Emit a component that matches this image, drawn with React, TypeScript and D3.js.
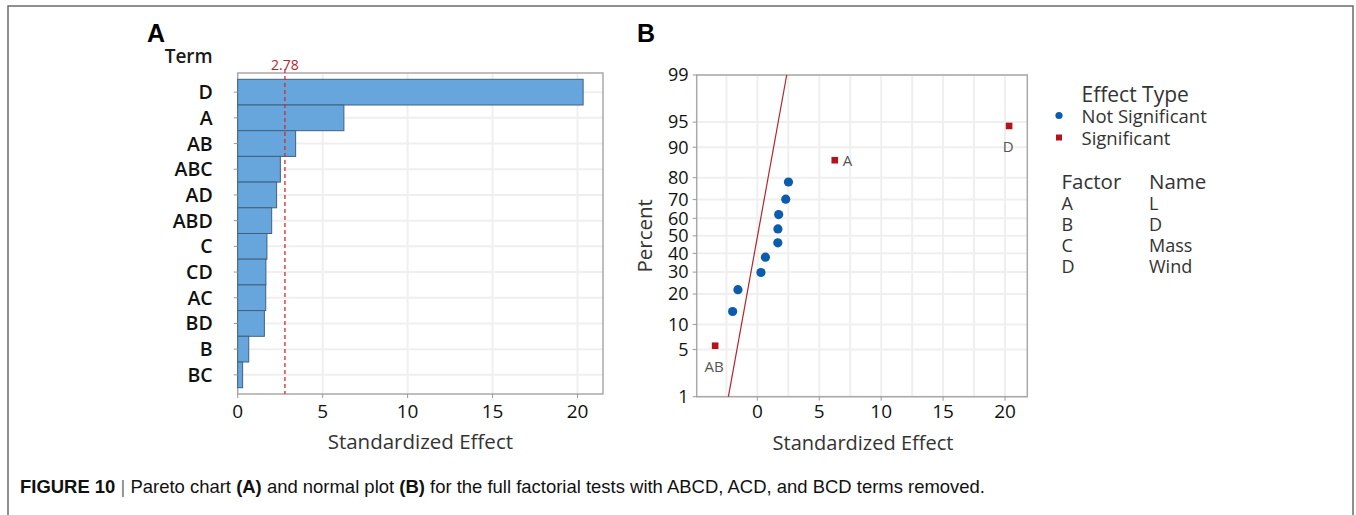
import React from "react";
import * as d3 from "d3";

// ---------- Data ----------
const paretoTerms = ["D", "A", "AB", "ABC", "AD", "ABD", "C", "CD", "AC", "BD", "B", "BC"];
const paretoEffects = [20.33, 6.25, 3.41, 2.51, 2.29, 2.0, 1.72, 1.66, 1.65, 1.57, 0.65, 0.29];
const criticalEffect = 2.78;
const paretoTicks = [0, 5, 10, 15, 20];

const normalTerms = ["AB", "ABD", "BD", "BC", "B", "AC", "CD", "C", "AD", "ABC", "A", "D"];
const normalEffects = [-3.41, -2.0, -1.57, 0.29, 0.65, 1.65, 1.66, 1.72, 2.29, 2.51, 6.25, 20.33];
const normalPercents = [5.6, 13.7, 21.8, 29.8, 37.9, 46.0, 54.0, 62.1, 70.2, 78.2, 86.3, 94.4];
const normalSignificant = [true, false, false, false, false, false, false, false, false, false, true, true];
const labeledTerms = ["AB", "A", "D"];
const fitPercents = [1, 99];
const fitEffects = [-2.34, 2.37];
const percentTicks = [1, 5, 10, 20, 30, 40, 50, 60, 70, 80, 90, 95, 99];
const normalXTicks = [0, 5, 10, 15, 20];
const normalXGrid = [-2.5, 0, 2.5, 5, 7.5, 10, 12.5, 15, 17.5, 20];

const legendTypes = ["Not Significant", "Significant"];
const factorCodes = ["A", "B", "C", "D"];
const factorNames = ["L", "D", "Mass", "Wind"];

// ---------- helpers ----------
function invNorm(p: number): number {
  const a = [-39.69683028665376, 220.9460984245205, -275.9285104469687, 138.357751867269, -30.66479806614716, 2.506628277459239];
  const b = [-54.47609879822406, 161.5858368580409, -155.6989798598866, 66.80131188771972, -13.28068155288572];
  const c = [-0.007784894002430293, -0.3223964580411365, -2.400758277161838, -2.549732539343734, 4.374664141464968, 2.938163982698783];
  const d = [0.007784695709041462, 0.3224671290700398, 2.445134137142996, 3.754408661907416];
  const pl = 0.02425;
  let q: number, r: number;
  if (p < pl) {
    q = Math.sqrt(-2 * Math.log(p));
    return (((((c[0] * q + c[1]) * q + c[2]) * q + c[3]) * q + c[4]) * q + c[5]) / ((((d[0] * q + d[1]) * q + d[2]) * q + d[3]) * q + 1);
  }
  if (p > 1 - pl) {
    q = Math.sqrt(-2 * Math.log(1 - p));
    return -(((((c[0] * q + c[1]) * q + c[2]) * q + c[3]) * q + c[4]) * q + c[5]) / ((((d[0] * q + d[1]) * q + d[2]) * q + d[3]) * q + 1);
  }
  q = p - 0.5;
  r = q * q;
  return ((((((a[0] * r + a[1]) * r + a[2]) * r + a[3]) * r + a[4]) * r + a[5]) * q) / (((((b[0] * r + b[1]) * r + b[2]) * r + b[3]) * r + b[4]) * r + 1);
}

const FONT = "'Open Sans', 'Noto Sans', sans-serif";
const CAP = "'Liberation Sans', Arial, sans-serif";
const GRID = "#efefef";
const FRAME = "#a9a9a9";

export default function App() {
  // Panel A scales
  const aL = 237.7, aR = 603, aT = 73, aB = 394;
  const xA = d3.scaleLinear().domain([0, 21.5]).range([aL, aR]);
  const yA = d3.scaleBand().domain(paretoTerms).range([79.3, 387.7]).padding(0);

  // Panel B scales
  const bL = 696.7, bR = 1027.3, bT = 75, bB = 396.7;
  const xB = d3.scaleLinear().domain([-4.9, 21.8]).range([bL, bR]);
  const zB = d3.scaleLinear().domain([invNorm(0.01), invNorm(0.99)]).range([bB, bT]);
  const yB = (p: number) => zB(invNorm(p / 100));
  const fitLine = d3.line<number>().x((_, i) => xB(fitEffects[i])).y((p) => yB(p));

  return (
    <svg width={1356} height={515} style={{ position: "absolute", left: 0, top: 0, background: "#fff" }}>
      {/* figure frame */}
      <path d="M8,530 L8,6 L1353,6 L1353,530" fill="none" stroke="#6b6b6b" strokeWidth={1.5} />

      {/* ---------- Panel A ---------- */}
      <text x={147} y={41.5} fontFamily={CAP} fontWeight="bold" fontSize={25} fill="#000">A</text>
      <text x={212.7} y={63} textAnchor="end" fontFamily={FONT} fontWeight={600} fontSize={19} fill="#1a1a1a">Term</text>
      <g>
        {paretoTicks.filter((t) => t > 0).map((t) => (
          <line key={"ga" + t} x1={xA(t)} x2={xA(t)} y1={aT} y2={aB} stroke={GRID} strokeWidth={2} />
        ))}
        {paretoTerms.map((t) => (
          <line key={"gh" + t} x1={aL} x2={aR} y1={yA(t)! + yA.bandwidth() / 2} y2={yA(t)! + yA.bandwidth() / 2} stroke={GRID} strokeWidth={2} />
        ))}
        <rect x={aL} y={aT} width={aR - aL} height={aB - aT} fill="none" stroke={FRAME} strokeWidth={1.5} />
        {paretoTerms.map((t, i) => (
          <rect key={"bar" + t} x={xA(0)} y={yA(t)!} width={xA(paretoEffects[i]) - xA(0)} height={yA.bandwidth()}
            fill="#67a6dc" stroke="#42607e" strokeWidth={1} />
        ))}
        {paretoTerms.map((t) => (
          <g key={"yt" + t}>
            <line x1={aL - 4} x2={aL} y1={yA(t)! + yA.bandwidth() / 2} y2={yA(t)! + yA.bandwidth() / 2} stroke="#999" />
            <text x={212.7} y={yA(t)! + yA.bandwidth() / 2} dy="0.36em" textAnchor="end" fontFamily={FONT} fontWeight={600} fontSize={19.5} fill="#111">{t}</text>
          </g>
        ))}
        {paretoTicks.map((t) => (
          <g key={"xt" + t}>
            <line x1={xA(t)} x2={xA(t)} y1={aB} y2={aB + 4} stroke="#999" />
            <text x={xA(t)} y={418} textAnchor="middle" fontFamily={FONT} fontSize={19} fill="#111">{t}</text>
          </g>
        ))}
        <line x1={xA(criticalEffect)} x2={xA(criticalEffect)} y1={aT - 4} y2={aB} stroke="#d42a2a" strokeWidth={1.3} strokeDasharray="4,3" />
        <text x={xA(criticalEffect)} y={70} textAnchor="middle" fontFamily={FONT} fontSize={14} fill="#b0282a">{criticalEffect}</text>
        <text x={(aL + aR) / 2} y={449} textAnchor="middle" fontFamily={FONT} fontSize={20.5} fill="#333">Standardized Effect</text>
      </g>

      {/* ---------- Panel B ---------- */}
      <text x={637} y={41.5} fontFamily={CAP} fontWeight="bold" fontSize={25} fill="#000">B</text>
      <g>
        {normalXGrid.map((t) => (
          <line key={"gb" + t} x1={xB(t)} x2={xB(t)} y1={bT} y2={bB} stroke={GRID} strokeWidth={2} />
        ))}
        {percentTicks.map((p) => (
          <line key={"gp" + p} x1={bL} x2={bR} y1={yB(p)} y2={yB(p)} stroke={GRID} strokeWidth={2} />
        ))}
        <rect x={bL} y={bT} width={bR - bL} height={bB - bT} fill="none" stroke={FRAME} strokeWidth={1.5} />
        {percentTicks.map((p) => (
          <g key={"pt" + p}>
            <line x1={bL - 4} x2={bL} y1={yB(p)} y2={yB(p)} stroke="#999" />
            <text x={688.5} y={yB(p)} dy="0.35em" textAnchor="end" fontFamily={FONT} fontSize={18} fill="#111">{p}</text>
          </g>
        ))}
        {normalXTicks.map((t) => (
          <g key={"bx" + t}>
            <line x1={xB(t)} x2={xB(t)} y1={bB} y2={bB + 4} stroke="#999" />
            <text x={xB(t)} y={418.3} textAnchor="middle" fontFamily={FONT} fontSize={19} fill="#111">{t}</text>
          </g>
        ))}
        <path d={fitLine(fitPercents) || ""} fill="none" stroke="#b3262c" strokeWidth={1.2} />
        {normalTerms.map((t, i) =>
          normalSignificant[i] ? (
            <rect key={"pt" + t} x={xB(normalEffects[i]) - 3.3} y={yB(normalPercents[i]) - 3.3} width={6.6} height={6.6} fill="#b5121b" />
          ) : (
            <circle key={"pt" + t} cx={xB(normalEffects[i])} cy={yB(normalPercents[i])} r={4.6} fill="#0b5cad" />
          )
        )}
        {normalTerms.map((t, i) => {
          if (!labeledTerms.includes(t)) return null;
          const px = xB(normalEffects[i]);
          const py = yB(normalPercents[i]);
          if (t === "A")
            return <text key={"lb" + t} x={px + 8} y={py} dy="0.36em" fontFamily={FONT} fontSize={15} fill="#555">{t}</text>;
          return <text key={"lb" + t} x={px - 1} y={py + 21} dy="0.36em" textAnchor="middle" fontFamily={FONT} fontSize={15} fill="#555">{t}</text>;
        })}
        <text transform={`translate(652,${(bT + bB) / 2}) rotate(-90)`} textAnchor="middle" fontFamily={FONT} fontSize={20.5} fill="#333">Percent</text>
        <text x={(bL + bR) / 2 + 1} y={450} textAnchor="middle" fontFamily={FONT} fontSize={20} fill="#333">Standardized Effect</text>
      </g>

      {/* ---------- Legend ---------- */}
      <g fontFamily={FONT} fill="#333">
        <text x={1081.5} y={101.5} fontSize={21}>Effect Type</text>
        {legendTypes.map((l, i) => (
          <g key={l}>
            {i === 0 ? (
              <circle cx={1059} cy={115.5 + i * 21.5} r={3.6} fill="#0b5cad" />
            ) : (
              <rect x={1056} y={134.5} width={6} height={6} fill="#b5121b" />
            )}
            <text x={1081.5} y={123 + i * 21.5} fontSize={18.5}>{l}</text>
          </g>
        ))}
        <text x={1061.5} y={188.5} fontSize={20.5}>Factor</text>
        <text x={1149} y={188.5} fontSize={20.5}>Name</text>
        {factorCodes.map((c, i) => (
          <g key={c}>
            <text x={1061.5} y={209.5 + i * 21} fontSize={18}>{c}</text>
            <text x={1149} y={209.5 + i * 21} fontSize={18}>{factorNames[i]}</text>
          </g>
        ))}
      </g>

      {/* ---------- Caption ---------- */}
      <text x={20} y={493} fontFamily={CAP} fontSize={19} fill="#111" textLength={965} lengthAdjust="spacingAndGlyphs">
        <tspan fontWeight="bold">FIGURE 10</tspan>
        <tspan fill="#777"> | </tspan>
        <tspan>Pareto chart </tspan>
        <tspan fontWeight="bold">(A)</tspan>
        <tspan> and normal plot </tspan>
        <tspan fontWeight="bold">(B)</tspan>
        <tspan> for the full factorial tests with ABCD, ACD, and BCD terms removed.</tspan>
      </text>
    </svg>
  );
}
